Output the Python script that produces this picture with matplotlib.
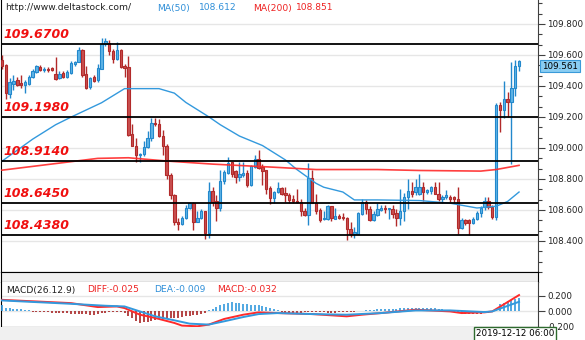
import matplotlib
matplotlib.use('Agg')
import matplotlib.pyplot as plt
import numpy as np

# USD/JPY H1 candles, oldest first
opens = [109.569, 109.536, 109.346, 109.412, 109.439, 109.418, 109.408, 109.412, 109.459, 109.490,
         109.523, 109.503, 109.511, 109.515, 109.480, 109.453, 109.486, 109.459, 109.486, 109.542,
         109.556, 109.631, 109.480, 109.391, 109.459, 109.439, 109.511, 109.670, 109.680, 109.624,
         109.573, 109.635, 109.528, 109.521, 109.088, 109.016, 108.958, 108.964, 109.005, 109.067,
         109.160, 109.156, 109.078, 109.011, 108.826, 108.696, 108.524, 108.510, 108.551, 108.613,
         108.644, 108.524, 108.551, 108.593, 108.454, 108.722, 108.661, 108.613, 108.784, 108.840,
         108.908, 108.850, 108.813, 108.824, 108.840, 108.764, 108.875, 108.929, 108.875, 108.855,
         108.743, 108.675, 108.716, 108.739, 108.710, 108.696, 108.669, 108.658, 108.654, 108.593,
         108.566, 108.809, 108.644, 108.599, 108.541, 108.541, 108.623, 108.545, 108.562, 108.557,
         108.551, 108.479, 108.442, 108.448, 108.572, 108.654, 108.607, 108.537, 108.566, 108.603,
         108.613, 108.607, 108.607, 108.578, 108.551, 108.593, 108.681, 108.722, 108.716, 108.706,
         108.751, 108.716, 108.722, 108.747, 108.706, 108.669, 108.681, 108.681, 108.681, 108.669,
         108.483, 108.537, 108.537, 108.516, 108.545, 108.578, 108.619, 108.661, 108.619, 108.557,
         109.280, 109.247, 109.315, 109.294, 109.387, 109.532]
highs = [109.598, 109.542, 109.449, 109.470, 109.459, 109.470, 109.439, 109.470, 109.507, 109.536,
         109.536, 109.521, 109.521, 109.523, 109.589, 109.494, 109.494, 109.501, 109.563, 109.563,
         109.651, 109.639, 109.532, 109.459, 109.470, 109.542, 109.707, 109.711, 109.697, 109.639,
         109.686, 109.639, 109.542, 109.594, 109.156, 109.067, 108.970, 109.047, 109.109, 109.191,
         109.191, 109.185, 109.119, 109.026, 108.840, 108.706, 108.551, 108.562, 108.634, 108.654,
         108.654, 108.593, 108.607, 108.593, 108.778, 108.751, 108.696, 108.855, 108.861, 108.943,
         108.912, 108.861, 108.912, 108.912, 108.855, 108.892, 108.958, 108.985, 108.896, 108.861,
         108.758, 108.722, 108.778, 108.747, 108.751, 108.710, 108.696, 108.737, 108.669, 108.613,
         108.902, 108.861, 108.706, 108.613, 108.593, 108.634, 108.623, 108.613, 108.572, 108.582,
         108.557, 108.520, 108.489, 108.586, 108.669, 108.665, 108.623, 108.593, 108.644, 108.634,
         108.634, 108.613, 108.634, 108.607, 108.737, 108.710, 108.799, 108.778, 108.799, 108.834,
         108.778, 108.737, 108.758, 108.778, 108.778, 108.696, 108.731, 108.696, 108.689, 108.751,
         108.551, 108.545, 108.541, 108.557, 108.593, 108.623, 108.681, 108.681, 108.634, 109.288,
         109.294, 109.432, 109.362, 109.556, 109.569, 109.569]
lows = [109.511, 109.315, 109.325, 109.377, 109.397, 109.387, 109.356, 109.408, 109.453, 109.486,
        109.494, 109.490, 109.490, 109.494, 109.439, 109.445, 109.449, 109.453, 109.480, 109.532,
        109.552, 109.459, 109.383, 109.383, 109.424, 109.428, 109.507, 109.655, 109.598, 109.548,
        109.569, 109.515, 109.459, 109.078, 109.011, 108.912, 108.912, 108.950, 108.999, 109.047,
        109.139, 109.074, 108.958, 108.799, 108.669, 108.504, 108.469, 108.504, 108.545, 108.607,
        108.469, 108.520, 108.545, 108.413, 108.421, 108.623, 108.531, 108.593, 108.768, 108.834,
        108.813, 108.772, 108.784, 108.813, 108.751, 108.758, 108.871, 108.867, 108.764, 108.702,
        108.640, 108.648, 108.710, 108.696, 108.654, 108.648, 108.648, 108.644, 108.562, 108.562,
        108.504, 108.644, 108.572, 108.520, 108.537, 108.537, 108.531, 108.541, 108.541, 108.537,
        108.407, 108.428, 108.421, 108.442, 108.566, 108.572, 108.531, 108.531, 108.562, 108.593,
        108.582, 108.541, 108.551, 108.496, 108.504, 108.531, 108.607, 108.681, 108.696, 108.696,
        108.661, 108.706, 108.706, 108.702, 108.661, 108.648, 108.669, 108.654, 108.648, 108.442,
        108.475, 108.504, 108.438, 108.510, 108.537, 108.557, 108.599, 108.607, 108.545, 108.537,
        109.102, 109.191, 109.201, 108.896, 109.336, 109.494]
closes = [109.532, 109.356, 109.428, 109.433, 109.408, 109.404, 109.428, 109.459, 109.494, 109.528,
          109.501, 109.511, 109.501, 109.503, 109.445, 109.480, 109.459, 109.490, 109.548, 109.552,
          109.631, 109.474, 109.387, 109.449, 109.433, 109.515, 109.672, 109.688, 109.624, 109.573,
          109.631, 109.525, 109.519, 109.082, 109.016, 108.954, 108.964, 109.005, 109.067, 109.160,
          109.154, 109.078, 109.011, 108.826, 108.696, 108.524, 108.510, 108.551, 108.613, 108.644,
          108.524, 108.551, 108.593, 108.454, 108.722, 108.654, 108.613, 108.784, 108.846, 108.902,
          108.830, 108.813, 108.830, 108.840, 108.764, 108.881, 108.929, 108.871, 108.850, 108.737,
          108.675, 108.716, 108.739, 108.706, 108.696, 108.665, 108.658, 108.652, 108.593, 108.566,
          108.809, 108.648, 108.593, 108.537, 108.551, 108.623, 108.551, 108.562, 108.551, 108.551,
          108.475, 108.442, 108.458, 108.582, 108.654, 108.607, 108.537, 108.572, 108.607, 108.613,
          108.607, 108.613, 108.572, 108.551, 108.593, 108.685, 108.722, 108.706, 108.747, 108.751,
          108.716, 108.731, 108.747, 108.706, 108.669, 108.681, 108.696, 108.669, 108.669, 108.483,
          108.537, 108.516, 108.516, 108.545, 108.578, 108.613, 108.661, 108.619, 108.557, 109.280,
          109.247, 109.315, 109.294, 109.387, 109.528, 109.561]

# moving averages, sampled at bar numbers
ma50_bars = [0, 8, 14, 18, 26, 32, 41, 45, 48, 54, 57, 62, 68, 74, 77, 82, 84, 89, 92, 98,
             109, 117, 124, 129, 132, 135]
ma50_vals = [108.915, 109.057, 109.150, 109.199, 109.292, 109.383, 109.383, 109.354, 109.294,
             109.201, 109.150, 109.077, 109.016, 108.923, 108.861, 108.772, 108.747, 108.716,
             108.665, 108.665, 108.661, 108.644, 108.613, 108.624, 108.655, 108.716]
ma200_bars = [0, 25, 33, 43, 55, 71, 82, 98, 109, 125, 129, 135]
ma200_vals = [108.857, 108.933, 108.937, 108.916, 108.896, 108.876, 108.861, 108.861, 108.855,
              108.851, 108.861, 108.888]

levels = [109.6700, 109.1980, 108.9140, 108.6450, 108.4380]

# MACD(26,12,9)
macd_hist = [0.085, 0.05, 0.04, 0.035, 0.03, 0.025, 0.02, 0.015,
             -0.005, -0.008, -0.01, -0.01, -0.012, -0.015, -0.02,
             -0.02, -0.025, -0.025, -0.03, -0.03, -0.03, -0.035, -0.035, -0.04, -0.04, -0.035,
             -0.025, -0.015, -0.01, -0.008, -0.01,
             -0.01, -0.025, -0.055, -0.08, -0.12, -0.148, -0.13, -0.14, -0.12, -0.105, -0.1,
             -0.095, -0.085, -0.085, -0.085, -0.08, -0.075, -0.065, -0.055, -0.045, -0.04,
             -0.03, -0.02,
             0.015, 0.035, 0.06, 0.08, 0.098, 0.112, 0.115, 0.112, 0.107, 0.1, 0.095, 0.088,
             0.085, 0.08, 0.073, 0.055, 0.04, 0.025, 0.015,
             -0.005, -0.015, -0.02, -0.02, -0.02, -0.018, -0.01, -0.008, -0.005, -0.008, -0.01,
             -0.012, -0.015, -0.015, -0.015, -0.012, -0.01, -0.008, -0.005, -0.003,
             0.005, 0.01, 0.015, 0.02, 0.02, 0.025, 0.025, 0.03, 0.03, 0.035, 0.035, 0.04,
             0.045, 0.05, 0.05, 0.05, 0.05, 0.05, 0.045, 0.045, 0.04, 0.035, 0.03, 0.02, 0.01,
             -0.005, -0.015, -0.025, -0.03, -0.03, -0.03, -0.03, -0.028, -0.025, -0.02, -0.01,
             0.03, 0.09, 0.11, 0.13, 0.145, 0.16, 0.175]
diff_bars = [0, 9, 18, 25, 30, 32, 36, 40, 45, 47, 51, 54, 58, 63, 67, 72, 81, 90, 94, 99,
             108, 117, 120, 126, 128, 135]
diff_vals = [0.149, 0.128, 0.107, 0.056, 0.064, 0.043, -0.042, -0.084, -0.148, -0.182, -0.191,
             -0.169, -0.097, -0.042, -0.012, -0.021, -0.034, -0.063, -0.042, -0.021, 0.022, 0.0,
             -0.021, -0.012, 0.0, 0.21]
dea_bars = [0, 18, 27, 32, 36, 40, 45, 49, 54, 58, 63, 67, 72, 81, 90, 99, 108, 117, 126, 128, 135]
dea_vals = [0.141, 0.098, 0.073, 0.064, 0.0, -0.063, -0.114, -0.157, -0.169, -0.127, -0.072,
            -0.034, -0.021, -0.034, -0.042, -0.021, 0.013, 0.013, -0.008, 0.0, 0.124]

W, H = 585, 340
RED_EDGE, RED_FACE = '#b22a2a', '#c95050'
BLUE_EDGE, BLUE_FACE = '#2288cc', '#5fb4e6'
GRID = '#e6e6e6'
AXIS = '#404040'

fig = plt.figure(figsize=(W / 100, H / 100), dpi=100)


def px_axes(x0, y0, x1, y1, **kw):
    """Add axes given in pixel box (top-left origin)."""
    return fig.add_axes([x0 / W, 1 - y1 / H, (x1 - x0) / W, (y1 - y0) / H], **kw)


def style_right_axis(a):
    a.yaxis.tick_right()
    a.tick_params(axis='y', which='major', length=5, width=0.8, color=AXIS,
                  labelsize=6.3, labelcolor='#222222', pad=1.5)
    a.tick_params(axis='y', which='minor', length=3, width=0.8, color=AXIS)
    a.set_xticks([])
    a.yaxis.set_major_formatter(matplotlib.ticker.FormatStrFormatter('%.3f'))


# --- price panel ---
ax = px_axes(1, 0, 538, 272)
n = len(opens)
bars = np.arange(n)
o, h, l, c = map(np.array, (opens, highs, lows, closes))
bull = c >= o
edge = np.where(bull, BLUE_EDGE, RED_EDGE)
face = np.where(bull, BLUE_FACE, RED_FACE)

ax.vlines(bars, l, h, colors=edge, linewidth=1, zorder=3)
body_low = np.minimum(o, c)
body_h = np.maximum(np.abs(c - o), 0.002)
ax.bar(bars, body_h, bottom=body_low, width=0.62, color=face, edgecolor=edge,
       linewidth=0.8, zorder=4)

ax.plot(ma50_bars, ma50_vals, color='#3399dd', linewidth=1, zorder=5)
ax.plot(ma200_bars, ma200_vals, color='#ff2a2a', linewidth=1.2, alpha=0.9, zorder=5)

for lvl in levels:
    ax.axhline(lvl, color='black', linewidth=1.3, zorder=6)
    ax.annotate(f'{lvl:.4f}', xy=(0, lvl), xycoords=('axes fraction', 'data'),
                xytext=(2, 3), textcoords='offset pixels', ha='left', va='bottom',
                fontsize=9, fontweight='bold', fontstyle='italic', color='#f01010', zorder=7)

ax.set_xlim(-0.26, 139.95)
ax.set_ylim(108.2706, 109.9548)
ax.set_yticks(np.arange(108.4, 109.81, 0.2))
ax.set_yticks(np.arange(108.2, 110.0, 0.2 / 3), minor=True)
style_right_axis(ax)
ax.grid(axis='y', which='major', color=GRID, linewidth=1)
ax.set_axisbelow(True)
ax.spines['top'].set_visible(False)
ax.spines['left'].set_color('black')
ax.spines['bottom'].set_color('black')
ax.spines['right'].set_color(AXIS)

# last price tag
ax.annotate(f'{closes[-1]:.3f}', xy=(1, closes[-1]), xycoords=('axes fraction', 'data'),
            xytext=(4, -5), textcoords='offset pixels', ha='left', va='center', fontsize=6.3,
            color='black', annotation_clip=False, zorder=8,
            bbox=dict(boxstyle='square,pad=0.2', fc='#8acdf2', ec='#3a9ad9', lw=0.8))

fig.text(5 / W, 1 - 8 / H, 'http://www.deltastock.com/', fontsize=6.6, color='#202020', va='center')
fig.text(157 / W, 1 - 8 / H, 'MA(50)', fontsize=6.6, color='#2f8fd8', va='center')
fig.text(199 / W, 1 - 8 / H, '108.612', fontsize=6.6, color='#2f8fd8', va='center')
fig.text(253 / W, 1 - 8 / H, 'MA(200)', fontsize=6.6, color='#ee2222', va='center')
fig.text(296 / W, 1 - 8 / H, '108.851', fontsize=6.6, color='#ee2222', va='center')

# --- separator strip ---
sep = px_axes(1, 272, 538, 282, facecolor='#f0f0f0')
sep.set_xticks([])
sep.set_yticks([])
for s in sep.spines.values():
    s.set_color('black')

# --- MACD panel ---
mx = px_axes(1, 282, 538, 327)
hist = np.array(macd_hist)
mx.vlines(bars, 0, hist, colors=np.where(hist > 0, '#3399dd', '#a82424'), linewidth=1.2, zorder=3)
mx.plot(diff_bars, diff_vals, color='#ff2a2a', linewidth=1.4, zorder=4)
mx.plot(dea_bars, dea_vals, color='#3399dd', linewidth=1.4, zorder=4)
mx.set_xlim(-0.26, 139.95)
mx.set_ylim(-0.2, 0.378)
mx.set_yticks([-0.2, 0.0, 0.2])
style_right_axis(mx)
mx.grid(axis='y', color=GRID, linewidth=1)
mx.set_axisbelow(True)
mx.spines['top'].set_visible(False)
mx.spines['left'].set_color('black')
mx.spines['bottom'].set_color('black')
mx.spines['right'].set_color(AXIS)

fig.text(6 / W, 1 - 290 / H, 'MACD(26.12.9)', fontsize=6.6, color='#202020', va='center')
fig.text(87 / W, 1 - 290 / H, 'DIFF:-0.025', fontsize=6.6, color='#ee2222', va='center')
fig.text(154 / W, 1 - 290 / H, 'DEA:-0.009', fontsize=6.6, color='#2f8fd8', va='center')
fig.text(217 / W, 1 - 290 / H, 'MACD:-0.032', fontsize=6.6, color='#ee2222', va='center')

# --- bottom time strip ---
bot = px_axes(0, 327, 538, 340, facecolor='#f0f0f0')
bot.set_xticks([])
bot.set_yticks([])
for s in bot.spines.values():
    s.set_visible(False)
fig.text(515 / W, 1 - 334 / H, '2019-12-12 06:00', fontsize=6.3, color='black',
         ha='center', va='center',
         bbox=dict(boxstyle='square,pad=0.25', fc='white', ec='#2e6b2e', lw=1))

fig.savefig('out.png', dpi=100)
plt.close(fig)
